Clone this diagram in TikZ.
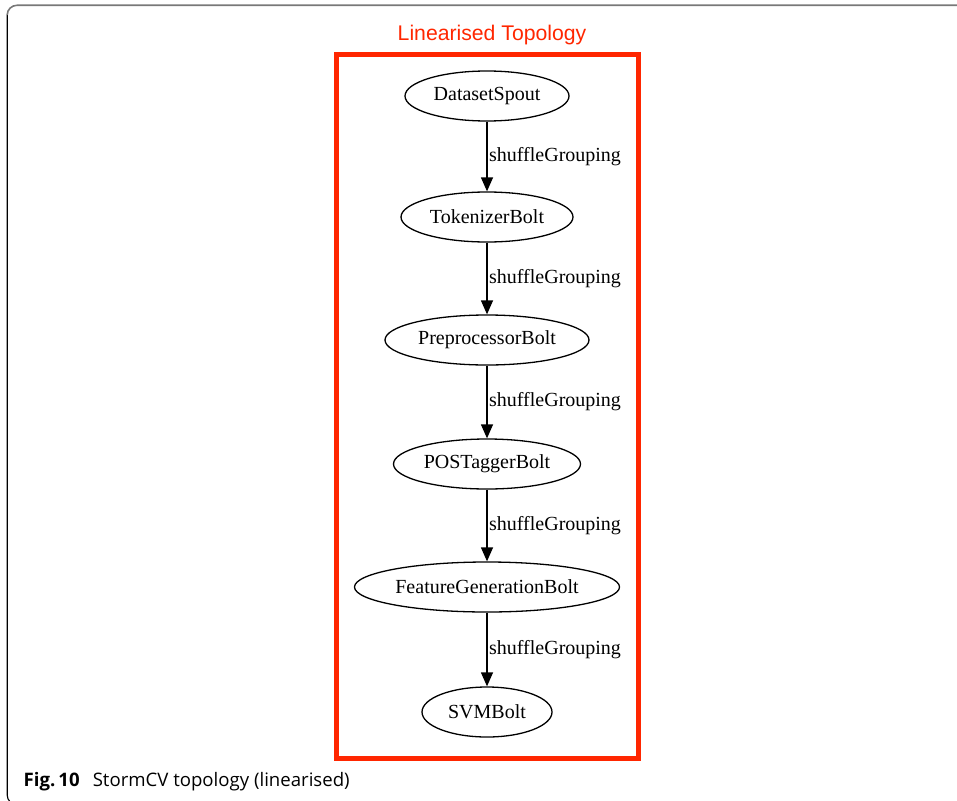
\documentclass[tikz,border=0pt]{standalone}
\usepackage{fontspec}
\setmainfont{Liberation Serif}
\newfontfamily\titlefont{Liberation Sans}
\newfontfamily\capfont{Open Sans}
\usetikzlibrary{shapes.geometric,arrows.meta}
\definecolor{framered}{RGB}{255,38,0}
\definecolor{framegray}{RGB}{120,120,120}
\tikzset{
  bolt/.style={draw, ellipse, line width=1.3pt, inner sep=0pt,
    minimum height=50pt, font=\fontsize{20}{24}\selectfont},
  flow/.style={line width=1.3pt, -{Triangle[length=14pt,width=12pt]}},
  grouping/.style={anchor=west, inner sep=1.5pt, font=\fontsize{20}{24}\selectfont},
}
\begin{document}
\begin{tikzpicture}[x=1pt,y=-1pt]
  \useasboundingbox (0,0) rectangle (957,800);
  \clip (0,0) rectangle (957,800);
  % page frame (rounded corners, running off the right and bottom)
  \draw[black, line width=1.1pt] (16.9,804.7) arc[start angle=90, end angle=180, radius=9.7] -- (7.2,15);
  \draw[framegray, line width=1.6pt] (7.2,15) arc[start angle=180, end angle=270, radius=9.7] -- (970,5.3);
  % topology box and its title
  \draw[framered, line width=4.6pt, line join=miter] (336.5,54.5) rectangle (638.5,758.5);
  \node[text=framered, font=\titlefont\fontsize{21.2}{24}\selectfont, anchor=base] (title) at (492,41) {Linearised Topology};
  % spout and bolts
  \node[bolt, minimum width=164pt] (spout) at (487,96) {DatasetSpout};
  \node[bolt, minimum width=172pt] (tok) at (487,217) {TokenizerBolt};
  \node[bolt, minimum width=204pt] (pre) at (487,340) {PreprocessorBolt};
  \node[bolt, minimum width=187pt] (pos) at (487,464) {POSTaggerBolt};
  \node[bolt, minimum width=265pt] (feat) at (487,587) {FeatureGenerationBolt};
  \node[bolt, minimum width=130pt] (svm) at (487,712) {SVMBolt};
  % stream groupings
  \draw[flow] (spout) -- node[grouping] (g1) {shuffleGrouping} (tok);
  \draw[flow] (tok) -- node[grouping] (g2) {shuffleGrouping} (pre);
  \draw[flow] (pre) -- node[grouping] (g3) {shuffleGrouping} (pos);
  \draw[flow] (pos) -- node[grouping] (g4) {shuffleGrouping} (feat);
  \draw[flow] (feat) -- node[grouping] (g5) {shuffleGrouping} (svm);
  % figure caption
  \node[anchor=base west, inner sep=0pt, font=\capfont\fontsize{18.6}{21}\selectfont] (caption) at (23.5,786.7)
    {\textbf{Fig.\,10}\hspace{0.7em}StormCV topology (linearised)};
\end{tikzpicture}
\end{document}
